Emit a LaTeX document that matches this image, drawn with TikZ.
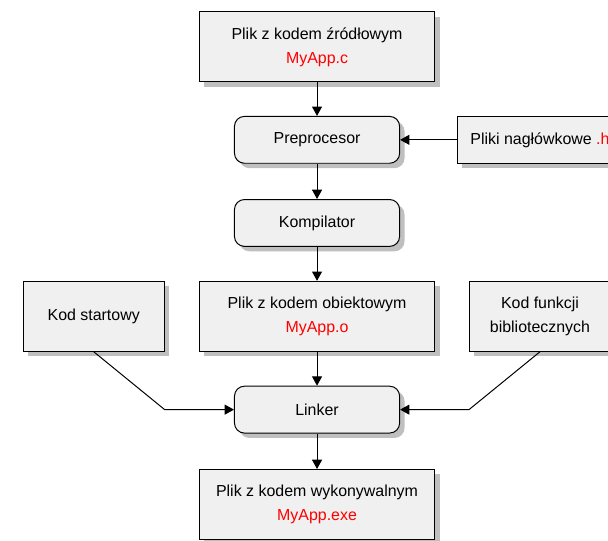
\documentclass[tikz,border=0pt]{standalone}
\usepackage{fontspec}
\setmainfont{Liberation Sans}
\usetikzlibrary{positioning,shadows,arrows.meta}

\begin{document}
\begin{tikzpicture}[
    node distance=2.47cm,
    auto,
    file/.style={rectangle, draw, line width=0.75pt, fill=black!6, minimum width=6.24cm, minimum height=1.85cm, align=center, font=\fontsize{12}{18}\selectfont, drop shadow={shadow xshift=0.13cm, shadow yshift=-0.13cm, opacity=1, fill=black!25}},
    extra/.style={file, minimum width=3.73cm},
    stage/.style={file, rounded corners=7.5pt, minimum width=4.37cm, minimum height=1.24cm},
    arrow/.style={line width=0.75pt, ->, >={Triangle[length=7pt, width=7.5pt]}}
]
    \useasboundingbox (-8.39,1.24) rectangle (7.70,-13.07);
    \clip (-8.39,1.24) rectangle (7.70,-13.07);

    % Main chain
    \node [file] (src) {Plik z kodem źródłowym\\\textcolor{red}{MyApp.c}};
    \node [stage, below of=src, yshift=0.01cm] (prep) {Preprocesor};
    \node [stage, below of=prep, yshift=0.27cm] (comp) {Kompilator};
    \node [file, below of=comp] (obj) {Plik z kodem obiektowym\\\textcolor{red}{MyApp.o}};
    \node [stage, below of=obj] (link) {Linker};
    \node [file, below of=link, yshift=-0.04cm] (exe) {Plik z kodem wykonywalnym\\\textcolor{red}{MyApp.exe}};

    % Side inputs
    \node [stage, rounded corners=0pt, right of=prep, xshift=3.43cm] (hdr) {Pliki nagłówkowe \textcolor{red}{.h}};
    \node [extra, left of=obj, xshift=-3.44cm] (start) {Kod startowy};
    \node [extra, right of=obj, xshift=3.43cm] (lib) {Kod funkcji\\bibliotecznych};

    % Arrows
    \draw [arrow] (src) -- (prep);
    \draw [arrow] (prep) -- (comp);
    \draw [arrow] (comp) -- (obj);
    \draw [arrow] (obj) -- (link);
    \draw [arrow] (link) -- (exe);
    \draw [arrow] (hdr) -- (prep);
    \draw [arrow] (start.south) -- (start.east |- link.west) -- (link.west);
    \draw [arrow] (lib.south) -- (lib.west |- link.east) -- (link.east);
\end{tikzpicture}
\end{document}
